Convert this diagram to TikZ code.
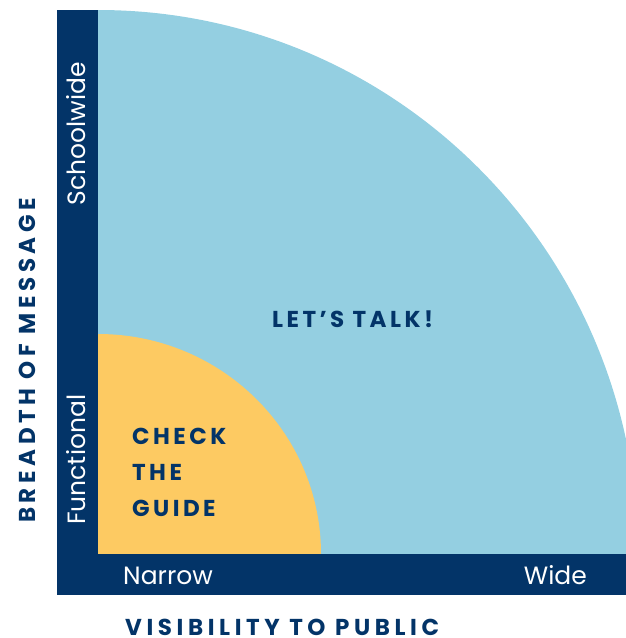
\documentclass[tikz,border=0pt]{standalone}
\usepackage{fontspec}
\setmainfont{Poppins}
\newfontfamily\headfont[LetterSpace=15]{Poppins}
\newfontfamily\titlefont[LetterSpace=20]{Poppins}
\usepackage{tikz}
\usetikzlibrary{positioning}

\definecolor{navy}{RGB}{3,52,104}
\definecolor{talkblue}{RGB}{148,207,225}
\definecolor{guideyellow}{RGB}{253,202,98}

\begin{document}
\begin{tikzpicture}[
        x=1pt, y=-1pt,
        axislabel/.style={text=white, inner sep=0pt, font=\fontsize{25}{25}\selectfont},
        headlabel/.style={text=navy, inner sep=0pt, font=\headfont\bfseries\fontsize{23}{36}\selectfont},
        titlelabel/.style={text=navy, inner sep=0pt, font=\titlefont\bfseries\fontsize{23}{23}\selectfont}
    ]
    \clip (0,0) rectangle (626,638);

    % the two zones
    \fill[talkblue] (98,554) -- (98,10) arc[start angle=-90, end angle=0, x radius=540, y radius=544] -- cycle;
    \fill[guideyellow] (98,554) -- (98,334) arc[start angle=-90, end angle=0, x radius=223, y radius=220] -- cycle;

    % axes
    \fill[navy] (57,10) rectangle (98,595);
    \fill[navy] (57,554) rectangle (626,595);

    % axis ends
    \node[axislabel, rotate=90, anchor=base west] (functional) at (85,525) {Functional};
    \node[axislabel, rotate=90, anchor=base east] (schoolwide) at (85,62) {Schoolwide};
    \node[axislabel, anchor=base west] (narrow) at (123,584) {Narrow};
    \node[axislabel, anchor=base east] (wide) at (587,584) {Wide};

    % axis titles
    \node[titlelabel, rotate=90, anchor=base west] (breadth) at (35,523) {BREADTH OF MESSAGE};
    \node[titlelabel, anchor=base west] (visibility) at (125,635) {VISIBILITY TO PUBLIC};

    % zone labels
    \node[headlabel, anchor=base west] (talk) at (272,327) {LET’S TALK!};
    \node[headlabel, anchor=base west, align=left] (guide) at (132,516) {CHECK\\THE\\GUIDE};
\end{tikzpicture}
\end{document}
